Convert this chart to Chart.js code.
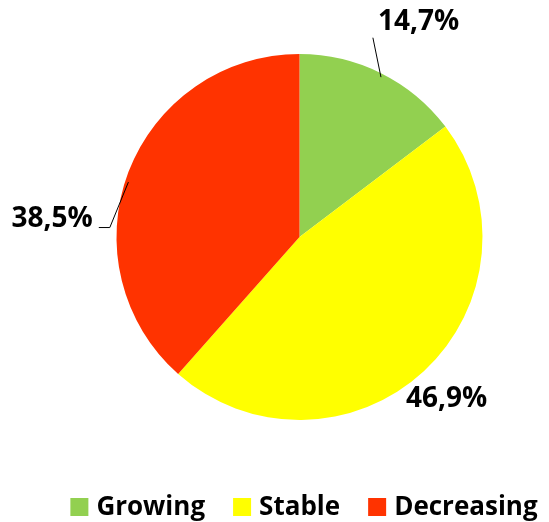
<!DOCTYPE html>
<html>
<head>
<meta charset="utf-8">
<script src="https://cdn.jsdelivr.net/npm/chart.js@4.4.0/dist/chart.umd.min.js"></script>
<style>
  html, body { margin: 0; padding: 0; background: #fff; }
  #wrap { width: 549px; height: 522px; }
</style>
</head>
<body>
<div id="wrap"><canvas id="pieChart"></canvas></div>
<script>
// Share of trends
const categories = ['Growing', 'Stable', 'Decreasing'];
const shares = [14.7, 46.9, 38.5];
const sliceColors = ['#92D050', '#FFFF00', '#FF3300'];

// label placement (polar, relative to slice middle)
const labelDist = [246, 219, 248];
const labelShift = [2.5, 0.6, -16.5];
const hasLeader = [true, false, true];

const FONT = 'bold 28px "Open Sans", sans-serif';
const LEGEND_FONT = 'bold 26px "Open Sans", sans-serif';

function fmt(v) {
    return v.toFixed(1).replace('.', ',') + '%';
}

const labelPlugin = {
    id: 'sliceLabels',
    afterDatasetsDraw(chart) {
        const ctx = chart.ctx;
        const meta = chart.getDatasetMeta(0);
        ctx.save();
        ctx.font = FONT;
        ctx.textAlign = 'center';
        ctx.textBaseline = 'middle';
        meta.data.forEach((arc, i) => {
            const p = arc.getProps(['x', 'y', 'startAngle', 'endAngle', 'outerRadius'], true);
            const mid = (p.startAngle + p.endAngle) / 2;
            const a = mid + labelShift[i] * Math.PI / 180;
            const lx = p.x + Math.cos(a) * labelDist[i];
            const ly = p.y + Math.sin(a) * labelDist[i];
            const text = fmt(shares[i]);
            const w = ctx.measureText(text).width;
            ctx.fillStyle = '#000';
            ctx.fillText(text, lx, ly);
            if (hasLeader[i]) {
                const ex = p.x + Math.cos(mid) * p.outerRadius;
                const ey = p.y + Math.sin(mid) * p.outerRadius;
                ctx.strokeStyle = '#000';
                ctx.lineWidth = 1;
                ctx.beginPath();
                if (lx < p.x) {
                    ctx.moveTo(lx + w / 2 + 6, ly + 9);
                    ctx.lineTo(lx + w / 2 + 17, ly + 9);
                    ctx.lineTo(ex, ey + 10);
                } else {
                    ctx.moveTo(lx - w / 2 - 5, ly + 16);
                    ctx.lineTo(ex, ey + 4);
                }
                ctx.stroke();
            }
        });
        ctx.restore();
    }
};

const legendPlugin = {
    id: 'bottomLegend',
    afterDraw(chart) {
        const ctx = chart.ctx;
        const box = 18, gap = 8, itemGap = 28;
        const cy = 507;
        ctx.save();
        ctx.font = LEGEND_FONT;
        ctx.textBaseline = 'middle';
        ctx.textAlign = 'left';
        const widths = categories.map(c => box + gap + ctx.measureText(c).width);
        const total = widths.reduce((s, w) => s + w, 0) + itemGap * (categories.length - 1);
        let x = 304 - total / 2;
        categories.forEach((c, i) => {
            ctx.fillStyle = sliceColors[i];
            ctx.fillRect(x, cy - box / 2, box, box);
            ctx.fillStyle = '#000';
            ctx.fillText(c, x + box + gap, cy + 1);
            x += widths[i] + itemGap;
        });
        ctx.restore();
    }
};

new Chart(document.getElementById('pieChart'), {
    type: 'pie',
    data: {
        labels: categories,
        datasets: [{
            data: shares,
            backgroundColor: sliceColors,
            borderWidth: 0
        }]
    },
    options: {
        responsive: true,
        maintainAspectRatio: false,
        animation: false,
        layout: { padding: { top: 54, bottom: 102, left: 50, right: 0 } },
        plugins: {
            legend: { display: false },
            tooltip: { enabled: false }
        }
    },
    plugins: [labelPlugin, legendPlugin]
});
</script>
</body>
</html>
